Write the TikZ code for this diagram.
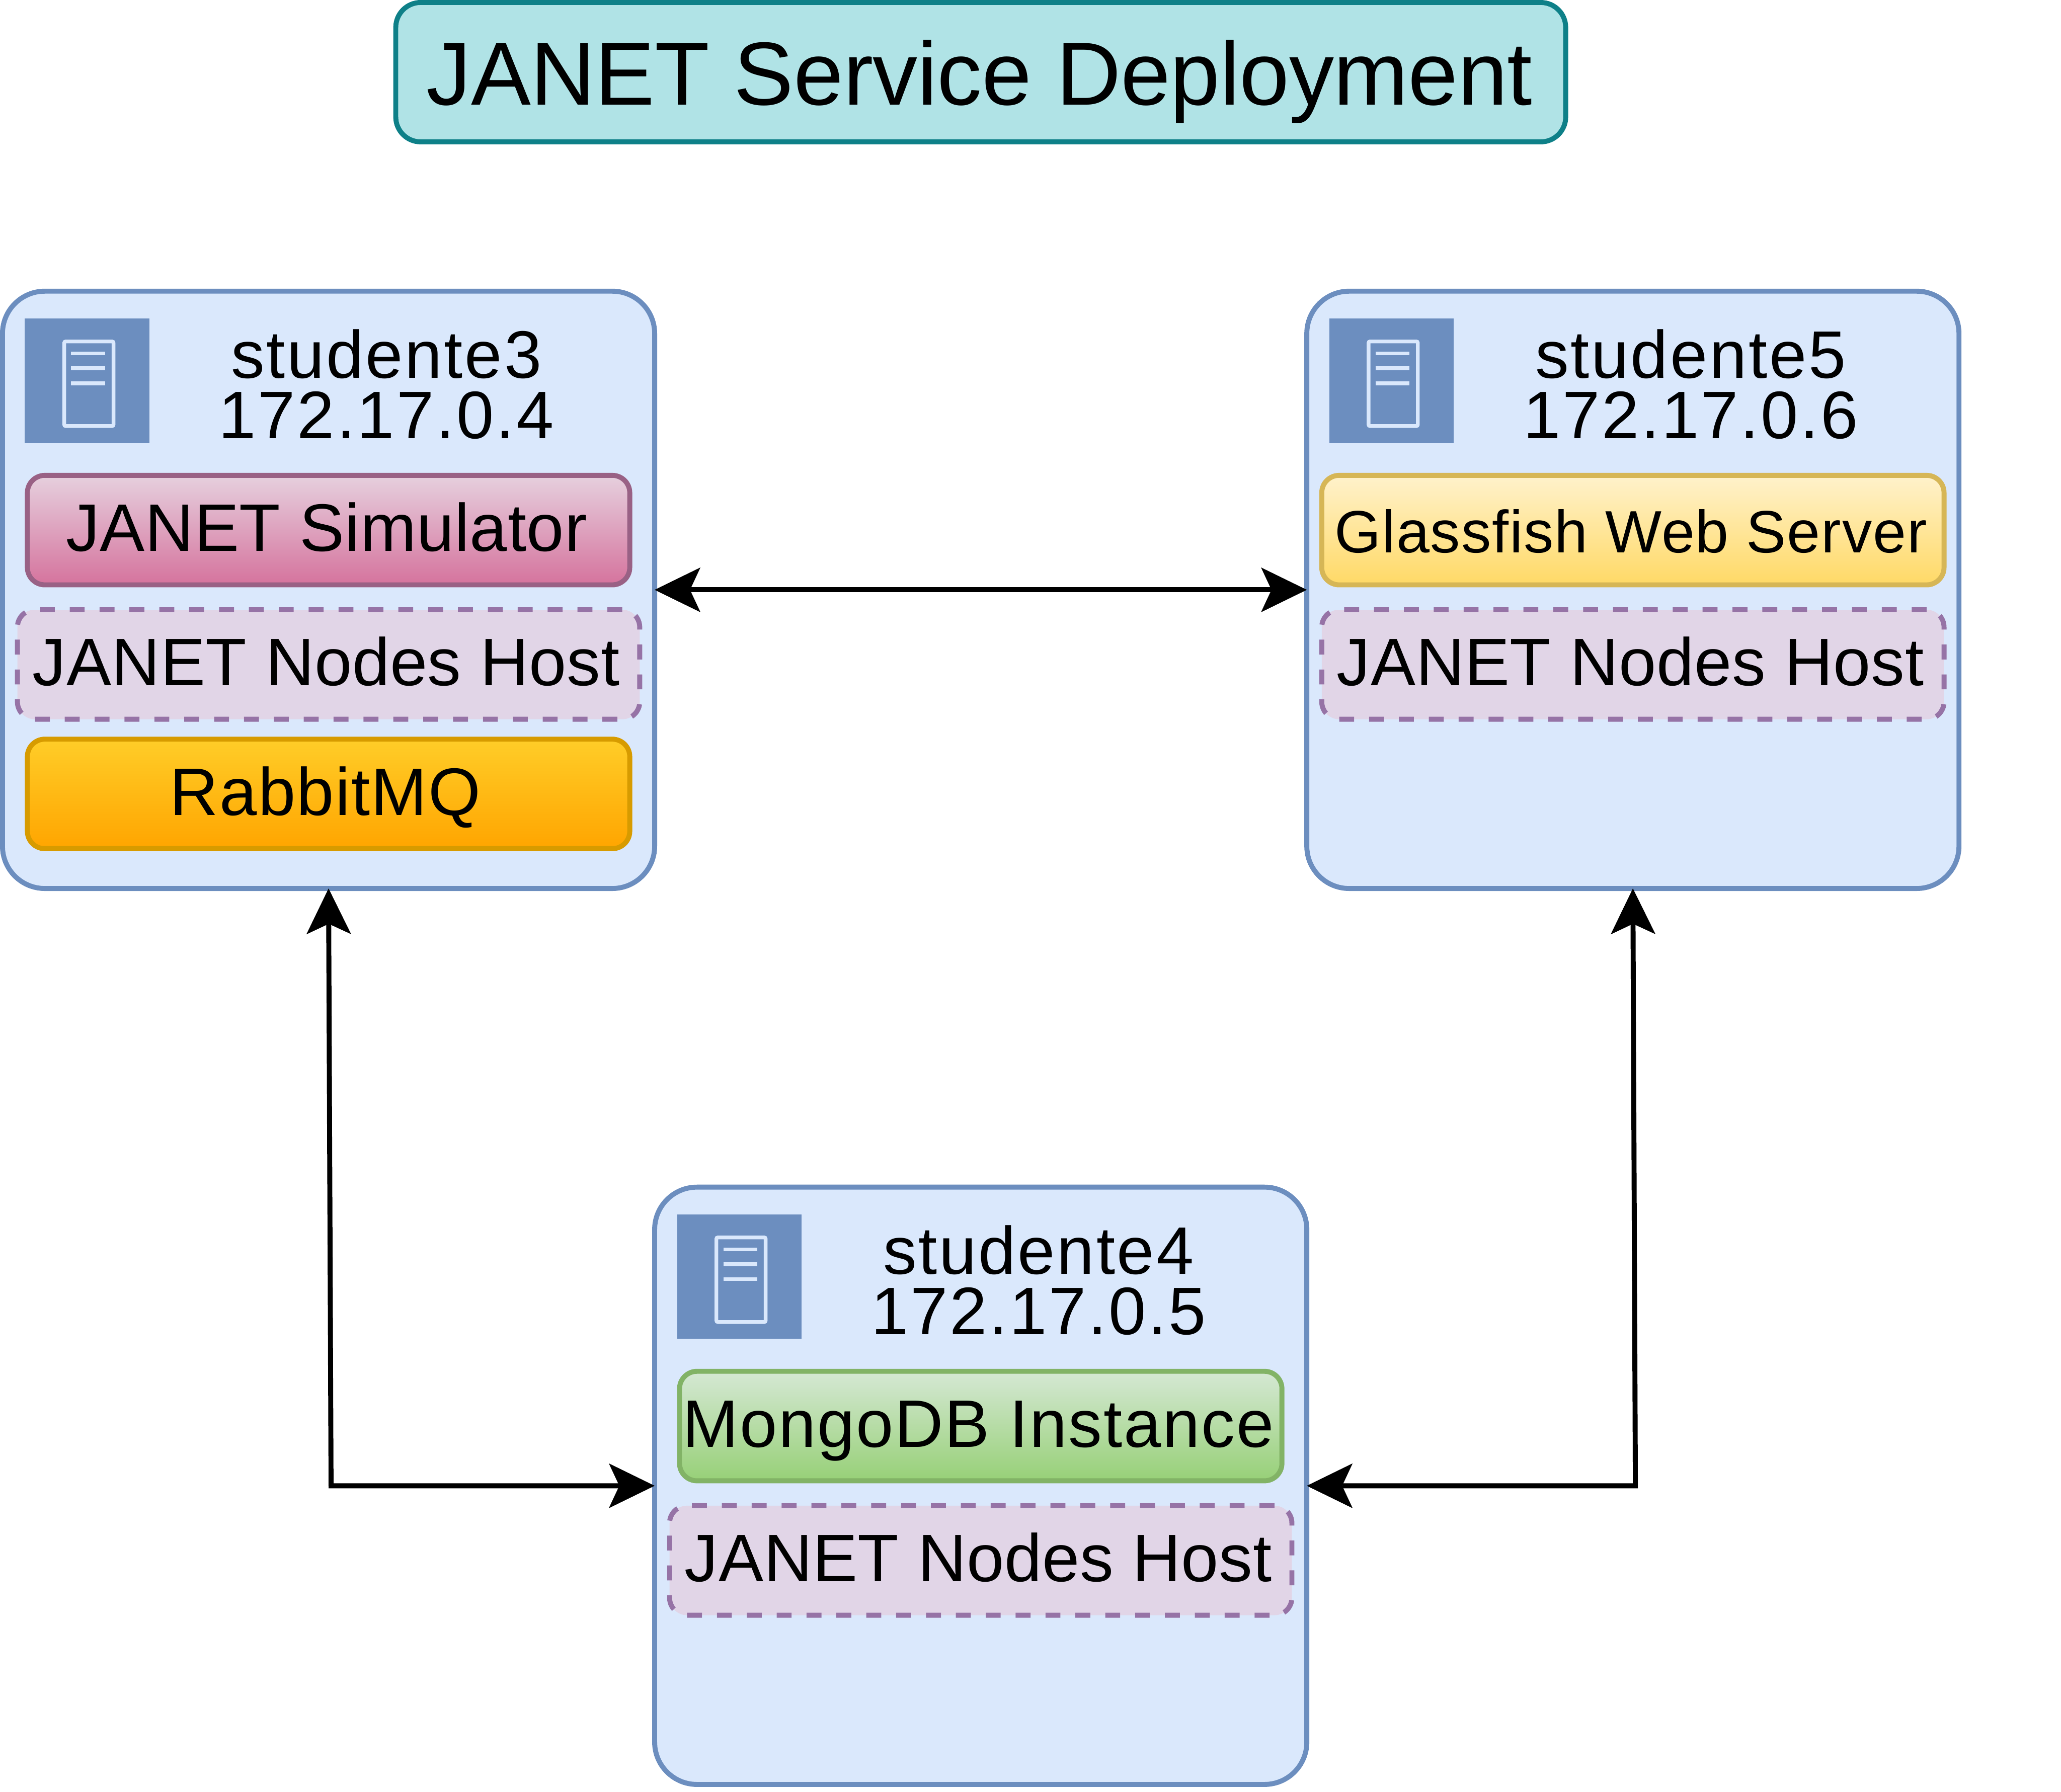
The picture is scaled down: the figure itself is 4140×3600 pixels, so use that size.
\documentclass[tikz,border=0pt]{standalone}
\usepackage{fontspec}
\setmainfont{Liberation Sans}
\usetikzlibrary{arrows.meta}
\definecolor{boxfill}{HTML}{DAE8FC}
\definecolor{boxline}{HTML}{6C8EBF}
\definecolor{titlefill}{HTML}{B0E3E6}
\definecolor{titleline}{HTML}{0E8088}
\definecolor{hostfill}{HTML}{E1D5E7}
\definecolor{hostline}{HTML}{9673A6}
\definecolor{simtop}{HTML}{E6D0DE}
\definecolor{simbot}{HTML}{D5739D}
\definecolor{simline}{HTML}{996185}
\definecolor{rabtop}{HTML}{FFCD28}
\definecolor{rabbot}{HTML}{FFA500}
\definecolor{rabline}{HTML}{D79B00}
\definecolor{glatop}{HTML}{FFF2CC}
\definecolor{glabot}{HTML}{FFD966}
\definecolor{glaline}{HTML}{D6B656}
\definecolor{montop}{HTML}{D5E8D4}
\definecolor{monbot}{HTML}{97D077}
\definecolor{monline}{HTML}{82B366}
\newcommand{\txtSized}[2]{\fontsize{#1}{24.4}\selectfont\addfontfeature{LetterSpace=#2}}
\tikzset{
  every node/.style={inner sep=0pt,outer sep=0pt,text=black},
  machine/.style={draw=boxline,fill=boxfill,line width=2pt,rounded corners=17pt,minimum width=262pt,minimum height=240pt},
  service/.style={line width=2pt,rounded corners=7pt,minimum width=242pt,minimum height=44pt,text height=22pt,text depth=5pt},
  wideservice/.style={line width=2pt,rounded corners=7pt,minimum width=250pt,minimum height=44pt,text height=22pt,text depth=5pt},
  hostbox/.style={wideservice,draw=hostline,fill=hostfill,dash pattern=on 6pt off 6pt,font=\txtSized{27}{0.5}},
  simbox/.style={service,draw=simline,top color=simtop,bottom color=simbot,font=\txtSized{27}{0.65}},
  rabbox/.style={service,draw=rabline,top color=rabtop,bottom color=rabbot,font=\txtSized{27}{1.7}},
  glabox/.style={wideservice,draw=glaline,top color=glatop,bottom color=glabot,font=\txtSized{24}{1.55},text height=23pt},
  monbox/.style={service,draw=monline,top color=montop,bottom color=monbot,font=\txtSized{27}{2.1}},
  titlebox/.style={draw=titleline,fill=titlefill,line width=2pt,rounded corners=10pt,minimum width=470pt,minimum height=56pt,font=\fontsize{36}{40}\selectfont\addfontfeature{LetterSpace=-0.25},text height=31pt,text depth=4.6pt},
  head/.style={align=center,font=\txtSized{27}{2.85}},
  link/.style={draw=black,line width=2pt,>={Stealth[length=18.4pt,width=18pt,inset=4.2pt,line width=0pt]},<->},
  pics/servericon/.style={code={
    \fill[boxline] (0,0) rectangle (250,250);
    \draw[boxfill,line width=1.5pt,rounded corners=0.6pt] (79,46) rectangle (178,216);
    \draw[boxfill,line width=1.5pt] (93,70) -- (161,70) (93,100) -- (161,100) (93,130) -- (161,130);
  }}
}
\begin{document}
\begin{tikzpicture}[x=0.2pt,y=-0.2pt]
\useasboundingbox (0,0) rectangle (4140,3600);
\node[titlebox] (title) at (1970,145) {JANET Service Deployment\kern1pt};

% studente3
\node[machine] (s3) at (660,1185) {};
\pic at (50,640) {servericon};
\node[head] (s3h) at (776,772) {studente3\\172.17.0.4};
\node[simbox] (s3a) at (660,1065) {JANET Simulator\kern1.6pt};
\node[hostbox] (s3b) at (660,1335) {JANET Nodes Host\kern2pt};
\node[rabbox] (s3c) at (660,1595) {RabbitMQ\kern2.6pt};

% studente5
\node[machine] (s5) at (3280,1185) {};
\pic at (2670,640) {servericon};
\node[head] (s5h) at (3396,772) {studente5\\172.17.0.6};
\node[glabox] (s5a) at (3280,1065) {Glassfish Web Server\kern1.6pt};
\node[hostbox] (s5b) at (3280,1335) {JANET Nodes Host\kern2pt};

% studente4
\node[machine] (s4) at (1970,2985) {};
\pic at (1360,2440) {servericon};
\node[head] (s4h) at (2086,2572) {studente4\\172.17.0.5};
\node[monbox] (s4a) at (1970,2865) {MongoDB Instance\kern2pt};
\node[hostbox] (s4b) at (1970,3135) {JANET Nodes Host\kern2pt};

% connectors
\coordinate (bendL) at (665,2985);
\coordinate (bendR) at (3285,2985);
\draw[link] (s3.east) -- (s5.west);
\draw[link] (s3.south) -- (bendL) -- (s4.west);
\draw[link] (s5.south) -- (bendR) -- (s4.east);
\end{tikzpicture}
\end{document}
